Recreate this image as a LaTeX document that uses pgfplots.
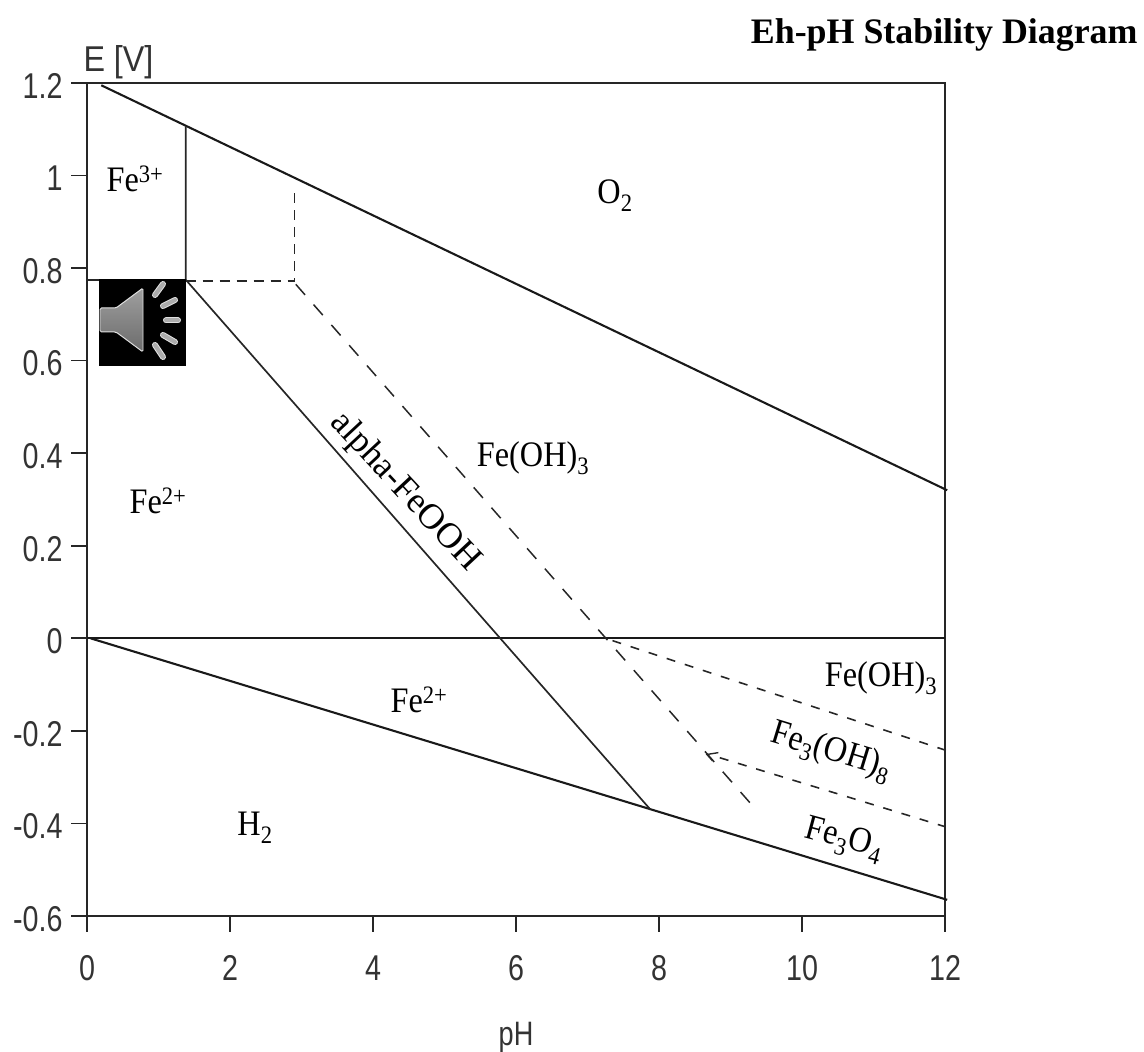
\documentclass[border=0pt]{standalone}
\usepackage{pgfplots}
\pgfplotsset{compat=1.18}
\usepackage{fontspec}
\setmainfont{Liberation Serif}
\newfontfamily\sans{Liberation Sans}
\newcommand\tl[1]{\scalebox{0.8}[1]{#1}}
\newcommand\lb[1]{\scalebox{0.9}[1]{#1}}
\definecolor{tk}{gray}{0.2}
\begin{document}
\begin{tikzpicture}[x=1bp,y=1bp]
\path[use as bounding box] (0,0) rectangle (1144,1052);
\begin{axis}[
  at={(87bp,136bp)},anchor=south west,
  width=858bp,height=833bp,scale only axis,
  xmin=0,xmax=12,ymin=-0.6,ymax=1.2,
  xtick={0,2,...,12},ytick={-0.6,-0.4,-0.2,0,0.2,0.4,0.6,0.8,1,1.2},
  yticklabels={\tl{-0.6},\tl{-0.4},\tl{-0.2},\tl{0},\tl{0.2},\tl{0.4},\tl{0.6},\tl{0.8},\tl{1},\tl{1.2}},
  xticklabels={\tl{0},\tl{2},\tl{4},\tl{6},\tl{8},\tl{10},\tl{12}},
  tick pos=left,
  tick align=outside,tick style={black!85,line width=1.7pt},
  major tick length=16bp,
  axis line style={black!85,line width=1.7pt},
  tick label style={font=\sans\fontsize{36}{36}\selectfont,text=tk},
  xticklabel style={yshift=-20bp},
  yticklabel style={xshift=-5bp,yshift=-3bp},
  clip=false,
]
\addplot[black!90,line width=2.1pt] coordinates {(0.2,1.195)(12.03,0.32)};
\addplot[black!90,line width=2.1pt] coordinates {(0,0)(12,0)};
\addplot[black!90,line width=2.1pt] coordinates {(0.05,0)(12.03,-0.565)};
\addplot[black!85,line width=1.7pt] coordinates {(1.38,1.105)(1.38,0.775)(7.88,-0.37)};
\addplot[black!85,line width=1.7pt] coordinates {(0,0.775)(1.38,0.775)};
\addplot[black!85,line width=1.7pt,dash pattern=on 10bp off 7bp] coordinates {(1.38,0.772)(2.9,0.772)(2.9,0.965)};
\addplot[black!85,line width=1.5pt,dash pattern=on 14bp off 13bp] coordinates {(2.92,0.765)(9.27,-0.355)};
\addplot[black!85,line width=1.6pt,dash pattern=on 9bp off 10bp] coordinates {(7.35,-0.005)(12.07,-0.245)};
\addplot[black!85,line width=1.6pt,dash pattern=on 9bp off 10bp] coordinates {(8.85,-0.258)(12,-0.407)};
\addplot[black!85,line width=1.4pt] coordinates {(8.83,-0.247)(8.67,-0.251)(8.75,-0.265)};
\end{axis}
\fill[black] (99,686) rectangle (186,773);
\shade[top color=gray!75,bottom color=gray!55!black!80,draw=gray!25,line width=1pt,rounded corners=1.5pt]
  (100,744) -- (116,744) -- (143,764) -- (143,700) -- (116,720) -- (100,720) -- cycle;
\foreach \a/\b/\c/\d in {155/757/163/768, 163/746/175/752, 166/731.5/178/731.5, 163/717/175/710, 155/707/163/695}{
  \draw[gray!25,line width=6bp,line cap=round] (\a,\b) -- (\c,\d);
  \draw[gray!65,line width=4bp,line cap=round] (\a,\b) -- (\c,\d);
}
\def\f{\fontsize{36}{36}\selectfont}
\node[font=\f,anchor=east] at (1141,1017) {\textbf{Eh-pH Stability Diagram}};
\node[font=\sans\fontsize{36}{36}\selectfont,anchor=west,text=tk] at (80,990) {\scalebox{0.9}[1]{E [V]}};
\node[font=\sans\fontsize{34}{34}\selectfont,text=tk] at (516,15) {\tl{pH}};
\node[font=\f] at (135,873) {\lb{Fe\textsuperscript{3+}}};
\node[font=\f] at (158,551) {\lb{Fe\textsuperscript{2+}}};
\node[font=\f] at (419,352) {\lb{Fe\textsuperscript{2+}}};
\node[font=\f] at (615,856) {\lb{O\textsubscript{2}}};
\node[font=\f] at (255,224) {\lb{H\textsubscript{2}}};
\node[font=\f] at (533,594) {\lb{Fe(OH)\textsubscript{3}}};
\node[font=\f] at (881,374) {\lb{Fe(OH)\textsubscript{3}}};
\node[font=\f,rotate=-47] at (405,560) {alpha-FeOOH};
\node[font=\f,rotate=-17] at (831,300) {\lb{Fe\textsubscript{3}(OH)\textsubscript{8}}};
\node[font=\f,rotate=-15] at (844,212) {\lb{Fe\textsubscript{3}O\textsubscript{4}}};
\end{tikzpicture}
\end{document}
